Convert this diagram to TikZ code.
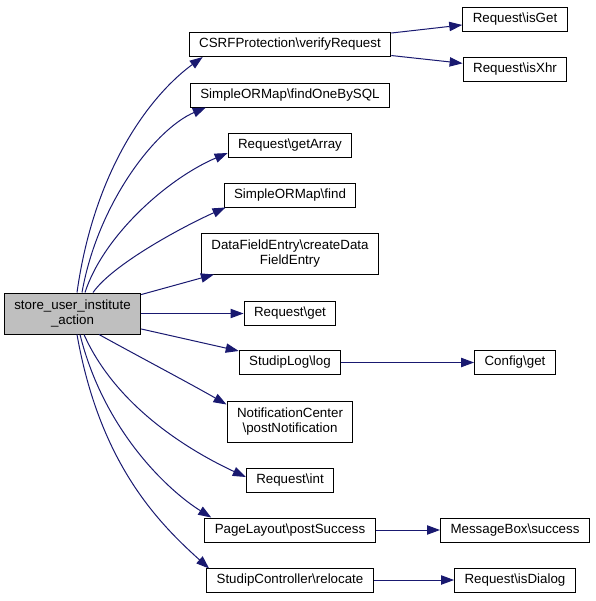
\documentclass[tikz,border=0pt]{standalone}
\usepackage{fontspec}
\setmainfont{Liberation Sans}
\usetikzlibrary{arrows.meta,calc}
\definecolor{callblue}{HTML}{191970}
\begin{document}
\begin{tikzpicture}[x=0.75pt,y=0.75pt,
  fn/.style={draw=black,line width=0.75pt,fill=white,inner xsep=7.5pt,inner ysep=2pt,
    minimum height=18pt,align=center,font=\fontsize{10}{10.75}\selectfont},
  fntwo/.style={fn,minimum height=30.75pt},
  call/.style={draw=callblue,line width=0.75pt,-{Triangle[length=9.75pt,width=7pt]}}]
  \useasboundingbox (0,0) rectangle (596,-601);
  \node[fntwo,fill=gray!50] (root) at (72.5,-313.5) {store\_user\_institute\\\_action};
  \node[fn] (csrf) at (290,-44.5) {CSRFProtection\textbackslash verifyRequest};
  \node[fn] (isget) at (515,-19) {Request\textbackslash isGet};
  \node[fn] (isxhr) at (515,-69) {Request\textbackslash isXhr};
  \node[fn] (findone) at (290,-95) {SimpleORMap\textbackslash findOneBySQL};
  \node[fn] (getarray) at (290,-145) {Request\textbackslash getArray};
  \node[fn] (find) at (290,-195) {SimpleORMap\textbackslash find};
  \node[fntwo] (datafield) at (290,-253.5) {DataFieldEntry\textbackslash createData\\FieldEntry};
  \node[fn] (reqget) at (290,-313.5) {Request\textbackslash get};
  \node[fn] (studiplog) at (290,-362.5) {StudipLog\textbackslash log};
  \node[fn] (configget) at (515,-362.5) {Config\textbackslash get};
  \node[fntwo] (notif) at (290,-421.5) {NotificationCenter\\\textbackslash postNotification};
  \node[fn] (reqint) at (290,-480) {Request\textbackslash int};
  \node[fn] (pagelayout) at (290,-530) {PageLayout\textbackslash postSuccess};
  \node[fn] (msgbox) at (515,-530) {MessageBox\textbackslash success};
  \node[fn] (relocate) at (290,-580) {StudipController\textbackslash relocate};
  \node[fn] (isdialog) at (515,-580) {Request\textbackslash isDialog};

  \draw[call] ($(root.north)+(4.5,0)$) .. controls +(82:130) and +(216:60) .. ($(csrf.south west)+(14,0)$);
  \draw[call] ($(root.north)+(9.5,0)$) .. controls +(80:90) and +(203:55) .. ($(findone.south west)+(16,0)$);
  \draw[call] ($(root.north)+(12.5,0)$) .. controls +(72:60) and +(203:65) .. ($(getarray.west)+(0,-8)$);
  \draw[call] ($(root.north)+(20.5,0)$) .. controls +(55:35) and +(204:45) .. ($(find.south west)+(2,0)$);
  \draw[call] (root) -- (datafield);
  \draw[call] (root) -- (reqget);
  \draw[call] (root) -- (studiplog);
  \draw[call] ($(root.south)+(26.5,0)$) .. controls +(-29:40) and +(150:40) .. ($(notif.north west)+(0,-4)$);
  \draw[call] ($(root.south)+(11.5,0)$) .. controls +(-66:80) and +(155:60) .. ($(reqint.west)+(0,3)$);
  \draw[call] ($(root.south)+(7.5,0)$) .. controls +(-76:100) and +(148:50) .. ($(pagelayout.north west)+(7,0)$);
  \draw[call] ($(root.south)+(4.5,0)$) .. controls +(-80:130) and +(138:70) .. ($(relocate.north west)+(3,-1)$);
  \draw[call] (csrf) -- (isget);
  \draw[call] (csrf) -- (isxhr);
  \draw[call] (studiplog) -- (configget);
  \draw[call] (pagelayout) -- (msgbox);
  \draw[call] (relocate) -- (isdialog);
\end{tikzpicture}
\end{document}
